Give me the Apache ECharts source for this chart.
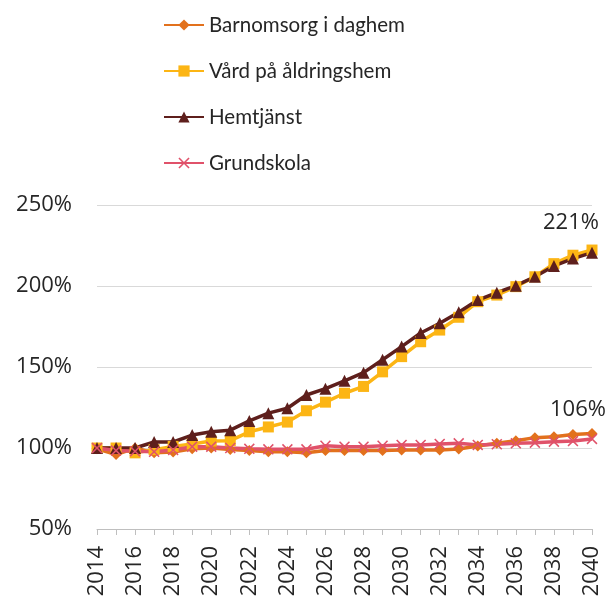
<!DOCTYPE html>
<html><head><meta charset="utf-8">
<script src="https://cdn.jsdelivr.net/npm/echarts@6/dist/echarts.min.js"></script>
<style>html,body{margin:0;padding:0;background:#fff}#c{width:609px;height:605px}</style>
</head><body><div id="c"></div>
<script>
const years = ['2014','2015','2016','2017','2018','2019','2020','2021','2022','2023','2024','2025','2026','2027','2028','2029','2030','2031','2032','2033','2034','2035','2036','2037','2038','2039','2040'];
const barnomsorg = [99.5, 96, 100, 97, 97.5, 99.5, 100, 99, 98.5, 97.7, 97.7, 97, 98.4, 98.4, 98.4, 98.4, 98.8, 98.8, 98.8, 99.4, 101.2, 102.9, 104.5, 106.4, 107, 108.4, 109];
const vard = [100, 100, 97, 99, 101, 102.5, 104.3, 104.5, 110, 113, 116, 123, 128.3, 133.8, 138, 147, 156.4, 165.6, 172.8, 180.7, 190.3, 194.4, 199.6, 205.7, 213.8, 219, 222.2];
const hemtjanst = [100, 100, 100, 103.7, 103.7, 108, 110, 111, 116.7, 121.5, 124.5, 132.7, 136.6, 141.5, 146.5, 154.5, 162.6, 171, 177, 183.8, 191.3, 195.9, 200.2, 205.7, 212.4, 216.9, 220.6];
const grundskola = [100, 98.4, 98, 97.7, 98.8, 100.8, 100.8, 100, 99.5, 99.2, 99.2, 99.2, 101.4, 100.8, 100.8, 101.4, 101.9, 101.9, 102.5, 102.9, 101.9, 102.3, 102.9, 103.3, 103.9, 104.3, 105.6];
const yTicks = [50, 100, 150, 200, 250];
const seriesNames = ['Barnomsorg i daghem', 'Vård på åldringshem', 'Hemtjänst', 'Grundskola'];

const AXFONT = "'Open Sans', sans-serif";
const LGFONT = "Lato, sans-serif";
const TXT = '#262626';
const crossPath = 'path://M0,1L1,0L5,4L9,0L10,1L6,5L10,9L9,10L5,6L1,10L0,9L4,5Z';

function lastLabel(offset) {
  return {
    show: true,
    position: 'inside',
    offset: offset,
    fontFamily: AXFONT, fontSize: 22, color: TXT,
    formatter: p => p.dataIndex === years.length - 1 ? Math.round(p.value) + '%' : ''
  };
}

const chart = echarts.init(document.getElementById('c'), null, {renderer: 'canvas'});
chart.setOption({
  animation: false,
  backgroundColor: '#fff',
  grid: {left: 97, right: 17, top: 205, bottom: 76},
  legend: {
    orient: 'vertical', left: 158, top: 8,
    itemWidth: 40, itemHeight: 14, itemGap: 22,
    textStyle: {fontFamily: LGFONT, fontSize: 20.5, color: TXT, lineHeight: 24},
    data: seriesNames
  },
  xAxis: {
    type: 'category', data: years, boundaryGap: false,
    axisLine: {lineStyle: {color: '#BFBFBF', width: 1}},
    axisTick: {show: true, interval: 0, length: 6, lineStyle: {color: '#BFBFBF'}},
    axisLabel: {interval: 1, rotate: 90, margin: 17, fontFamily: AXFONT, fontSize: 22, color: TXT}
  },
  yAxis: {
    type: 'value', min: yTicks[0], max: yTicks[yTicks.length - 1], interval: 50,
    axisLine: {show: false}, axisTick: {show: false},
    splitLine: {lineStyle: {color: '#D9D9D9', width: 1}},
    axisLabel: {margin: 25, fontFamily: AXFONT, fontSize: 22, color: TXT, formatter: v => v + '%'}
  },
  series: [
    {name: seriesNames[0], type: 'line', data: barnomsorg, symbol: 'diamond', symbolSize: 11,
     lineStyle: {color: '#E2711D', width: 3.5}, itemStyle: {color: '#E2711D'}},
    {name: seriesNames[1], type: 'line', data: vard, symbol: 'rect', symbolSize: 11,
     lineStyle: {color: '#FCB514', width: 3.5}, itemStyle: {color: '#FCB514'}},
    {name: seriesNames[2], type: 'line', data: hemtjanst, symbol: 'triangle', symbolSize: 12,
     lineStyle: {color: '#5E1F1C', width: 3.5}, itemStyle: {color: '#5E1F1C'},
     label: lastLabel([-21, -30])},
    {name: seriesNames[3], type: 'line', data: grundskola, symbol: crossPath, symbolSize: 11,
     lineStyle: {color: '#E0526A', width: 3.5}, itemStyle: {color: '#E0526A'},
     label: lastLabel([-14, -29])}
  ]
});
</script></body></html>
